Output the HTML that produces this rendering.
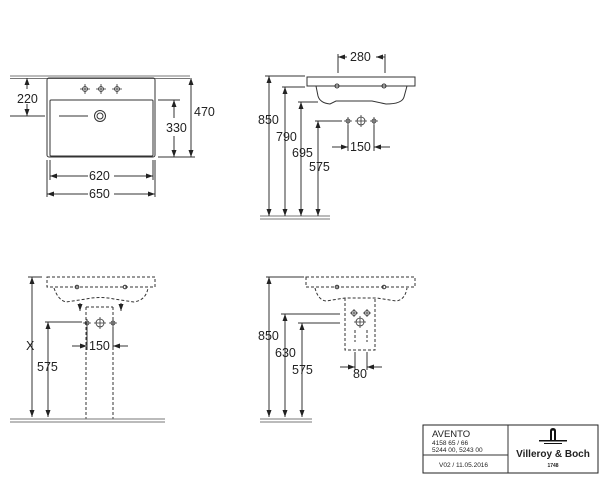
<!DOCTYPE html>
<html><head><meta charset="utf-8"><style>
body{margin:0;background:#fff}
svg{display:block}
text{font-family:"Liberation Sans",sans-serif;fill:#222}
</style></head><body>
<svg width="600" height="477" viewBox="0 0 600 477" xmlns="http://www.w3.org/2000/svg">
<defs>
<marker id="a" markerWidth="8" markerHeight="8" refX="7" refY="4" orient="auto-start-reverse" markerUnits="userSpaceOnUse">
<path d="M0,1.5 L7,4 L0,6.5 Z" fill="#222"/></marker>
</defs>
<g stroke="#333" stroke-width="1" fill="none">
<!-- Q1 top view -->
<path d="M10,76 H190 M10,78.5 H190" stroke="#777"/>
<rect x="47" y="78" width="108" height="79" rx="2"/>
<rect x="50" y="100" width="103" height="56" rx="1"/>
<circle cx="100" cy="116" r="5.5"/><circle cx="100" cy="116" r="3"/>
<line x1="59" y1="116" x2="88" y2="116"/>
<g stroke-width="0.8">
<circle cx="85" cy="89" r="2.5"/><circle cx="101" cy="89" r="2.5"/><circle cx="117" cy="89" r="2.5"/>
<path d="M80,89h10M85,84v10M96,89h10M101,84v10M112,89h10M117,84v10"/>
</g>
<line x1="10" y1="116" x2="45" y2="116"/>
<line x1="27" y1="78" x2="27" y2="89" marker-start="url(#a)"/>
<line x1="27" y1="104" x2="27" y2="116" marker-end="url(#a)"/>
<line x1="158" y1="100" x2="180" y2="100"/><line x1="158" y1="157" x2="195" y2="157"/>
<line x1="174" y1="100" x2="174" y2="118" marker-start="url(#a)"/>
<line x1="174" y1="136" x2="174" y2="157" marker-end="url(#a)"/>
<line x1="191" y1="78" x2="191" y2="157" marker-start="url(#a)" marker-end="url(#a)"/>
<line x1="50" y1="160" x2="50" y2="180"/><line x1="153" y1="160" x2="153" y2="180"/>
<line x1="47" y1="160" x2="47" y2="197"/><line x1="155" y1="160" x2="155" y2="197"/>
<line x1="50" y1="176" x2="88" y2="176" marker-start="url(#a)"/><line x1="114" y1="176" x2="153" y2="176" marker-end="url(#a)"/>
<line x1="47" y1="194" x2="88" y2="194" marker-start="url(#a)"/><line x1="114" y1="194" x2="155" y2="194" marker-end="url(#a)"/>

<!-- Q2 side view -->
<path d="M307,77 H415 V86 H307 Z"/>
<path d="M316,86 L318,96 Q320,103 330,104 L336,101 L372,101 L386,104 Q402,104 404,97 L407,86"/>
<circle cx="337" cy="86" r="2"/><circle cx="384" cy="86" r="2"/>
<line x1="338" y1="54" x2="338" y2="73"/><line x1="385" y1="54" x2="385" y2="73"/>
<line x1="338" y1="57" x2="347" y2="57" marker-start="url(#a)"/><line x1="376" y1="57" x2="385" y2="57" marker-start="url(#a)"/>
<path d="M260,219 H330 M260,216 H330" stroke="#777"/>
<line x1="265" y1="76" x2="305" y2="76"/><line x1="282" y1="87" x2="305" y2="87"/>
<line x1="298" y1="102" x2="318" y2="102"/><line x1="315" y1="121" x2="342" y2="121"/>
<line x1="269" y1="76" x2="269" y2="216" marker-start="url(#a)" marker-end="url(#a)"/>
<line x1="285" y1="87" x2="285" y2="216" marker-start="url(#a)" marker-end="url(#a)"/>
<line x1="301" y1="102" x2="301" y2="216" marker-start="url(#a)" marker-end="url(#a)"/>
<line x1="318" y1="121" x2="318" y2="216" marker-start="url(#a)" marker-end="url(#a)"/>
<g stroke-width="0.8"><circle cx="348" cy="121" r="2"/><circle cx="361" cy="121" r="4"/><circle cx="374" cy="121" r="2"/>
<path d="M344,121h8M348,117v8M355,121h12M361,115v12M370,121h8M374,117v8"/></g>
<line x1="348" y1="125" x2="348" y2="151"/><line x1="374" y1="125" x2="374" y2="151"/>
<line x1="332" y1="147" x2="348" y2="147" marker-end="url(#a)"/><line x1="390" y1="147" x2="374" y2="147" marker-end="url(#a)"/>

<!-- Q3 front with pedestal -->
<g stroke-dasharray="3,2">
<path d="M47,277 H155 V287 H47 Z"/>
<path d="M54,288 Q58,300 66,302 L86,299 Q100,296 114,299 L134,302 Q146,300 148,288"/>
<path d="M86,307 V419 M113,307 V419 M86,307 H113"/>
</g>
<circle cx="77" cy="287" r="1.8"/><circle cx="125" cy="287" r="1.8"/>
<line x1="80" y1="303" x2="80" y2="311" marker-end="url(#a)"/><line x1="121" y1="303" x2="121" y2="311" marker-end="url(#a)"/>
<path d="M10,419 H165 M10,422 H165" stroke="#777"/>
<line x1="28" y1="277" x2="42" y2="277"/>
<line x1="32" y1="277" x2="32" y2="417" marker-start="url(#a)" marker-end="url(#a)"/>
<line x1="45" y1="322" x2="82" y2="322"/>
<line x1="48" y1="322" x2="48" y2="417" marker-start="url(#a)" marker-end="url(#a)"/>
<g stroke-width="0.8"><circle cx="87" cy="323" r="2"/><circle cx="100" cy="323" r="4"/><circle cx="113" cy="323" r="2"/>
<path d="M83,323h8M87,319v8M94,323h12M100,317v12M109,323h8M113,319v8"/></g>
<line x1="87" y1="327" x2="87" y2="350"/><line x1="113" y1="327" x2="113" y2="350"/>
<line x1="72" y1="346" x2="87" y2="346" marker-end="url(#a)"/><line x1="128" y1="346" x2="113" y2="346" marker-end="url(#a)"/>

<!-- Q4 side with pedestal -->
<g stroke-dasharray="3,2">
<path d="M306,277 H415 V287 H306 Z"/>
<path d="M315,288 Q318,300 326,301 L345,298 H377 L396,301 Q405,300 407,288"/>
<path d="M345,298 V350 H375 V298"/>
<path d="M355,330 V342 M367,330 V342"/>
</g>
<circle cx="337" cy="287" r="1.8"/><circle cx="384" cy="287" r="1.8"/>
<g stroke-width="0.8"><circle cx="354" cy="313" r="2.5"/><circle cx="367" cy="313" r="2.5"/><circle cx="360" cy="322" r="4"/>
<path d="M350,313h8M354,309v8M363,313h8M367,309v8M354,322h12M360,316v12"/></g>
<path d="M260,419 H312 M260,422 H312" stroke="#777"/>
<line x1="266" y1="277" x2="304" y2="277"/>
<line x1="281" y1="314" x2="340" y2="314"/><line x1="298" y1="323" x2="340" y2="323"/>
<line x1="269" y1="277" x2="269" y2="417" marker-start="url(#a)" marker-end="url(#a)"/>
<line x1="285" y1="314" x2="285" y2="417" marker-start="url(#a)" marker-end="url(#a)"/>
<line x1="302" y1="323" x2="302" y2="417" marker-start="url(#a)" marker-end="url(#a)"/>
<line x1="355" y1="352" x2="355" y2="370"/><line x1="367" y1="352" x2="367" y2="370"/>
<line x1="340" y1="367" x2="355" y2="367" marker-end="url(#a)"/><line x1="382" y1="367" x2="367" y2="367" marker-end="url(#a)"/>

<!-- title block -->
<rect x="423" y="425" width="175" height="48" stroke="#222"/>
<line x1="508" y1="425" x2="508" y2="473"/><line x1="423" y1="455" x2="508" y2="455"/>
</g>
<g font-size="12.5">
<text x="17" y="103">220</text>
<text x="166" y="132">330</text>
<text x="194" y="116">470</text>
<text x="89" y="180">620</text>
<text x="89" y="198">650</text>
<text x="350" y="61">280</text>
<text x="258" y="124">850</text>
<text x="276" y="141">790</text>
<text x="292" y="157">695</text>
<text x="309" y="171">575</text>
<text x="350" y="151">150</text>
<text x="26" y="350">X</text>
<text x="37" y="371">575</text>
<text x="89" y="350">150</text>
<text x="258" y="340">850</text>
<text x="275" y="357">630</text>
<text x="292" y="374">575</text>
<text x="353" y="378">80</text>
</g>
<g font-size="9.5"><text x="432" y="437">AVENTO</text></g>
<g font-size="6.5"><text x="432" y="445">4158 65 / 66</text><text x="432" y="452">5244 00, 5243 00</text>
<text x="439" y="467">V02 / 11.05.2016</text></g>
<g fill="#111">
<path d="M550,440 V431 Q550,428 553,428 Q556,428 556,431 V440 H554 V431 Q553,430 552,431 V440 Z"/>
<rect x="539" y="440" width="28" height="1.5"/><rect x="544" y="443" width="18" height="1"/>
</g>
<text x="553" y="457" font-family="Liberation Serif,serif" font-weight="bold" font-size="10" text-anchor="middle">Villeroy &amp; Boch</text>
<text x="553" y="467" font-size="5" font-weight="bold" text-anchor="middle">1748</text>
</svg>
</body></html>
